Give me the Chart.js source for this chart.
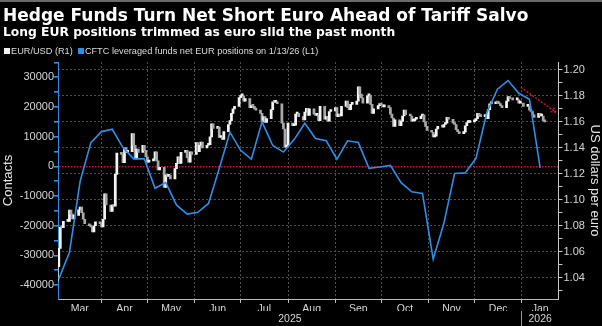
<!DOCTYPE html>
<html>
<head>
<meta charset="utf-8">
<script src="https://cdn.jsdelivr.net/npm/chart.js@4.4.1/dist/chart.umd.min.js"></script>
<style>
  body { margin: 0; background: #000; width: 602px; height: 326px; overflow: hidden; position: relative; }
  #topline { position: absolute; left: 0; top: 0; width: 602px; height: 2px; background: #6b6b6b; }
  #title { position: absolute; left: 3px; top: 6.6px; font: bold 17px/17px "DejaVu Sans", sans-serif; color: #fff; white-space: nowrap; }
  #subtitle { position: absolute; left: 3px; top: 25.9px; font: bold 12.3px/13px "DejaVu Sans", sans-serif; color: #fff; white-space: nowrap; }
  #legend { position: absolute; left: 4px; top: 45.7px; font: 9.2px/10px "Liberation Sans", sans-serif; color: #dcdcdc; white-space: nowrap; }
  #legend .box { display: inline-block; width: 6px; height: 6px; margin-right: 1px; vertical-align: 0; }
  #chart { position: absolute; left: 0; top: 0; }
</style>
</head>
<body>
<canvas id="chart" width="602" height="326"></canvas>
<div id="topline"></div>
<div id="title">Hedge Funds Turn Net Short Euro Ahead of Tariff Salvo</div>
<div id="subtitle">Long EUR positions trimmed as euro slid the past month</div>
<div id="legend"><span class="box" style="background:#f2f2f2"></span>EUR/USD (R1) &nbsp;<span class="box" style="background:#2f8fe8"></span>CFTC leveraged funds net EUR positions on 1/13/26 (L1)</div>
<script>
// EUR/USD daily closes, weekdays from Mar 3 2025 (Dec 25 / Jan 1 skipped)
const fxStart = '2025-03-03';
const fxHolidays = ['2025-12-25', '2026-01-01'];
const fxFirstOpen = 1.0375;
const fxCloses = [
  1.0485, 1.0625, 1.0790, 1.0785, 1.0833, // Mar 3
  1.0834, 1.0920, 1.0890, 1.0852, 1.0880,
  1.0922, 1.0943, 1.0900, 1.0850, 1.0815,
  1.0800, 1.0790, 1.0753, 1.0800, 1.0830,
  1.0815, 1.0790, 1.0850, 1.1045, 1.0960, // Mar 31
  1.0910, 1.0960, 1.0950, 1.1195, 1.1360,
  1.1350, 1.1285, 1.1400, 1.1365, 1.1370,
  1.1510, 1.1420, 1.1315, 1.1390, 1.1365,
  1.1420, 1.1380, 1.1330, 1.1290, 1.1300, // Apr 28
  1.1315, 1.1370, 1.1300, 1.1230, 1.1250,
  1.1095, 1.1190, 1.1180, 1.1190, 1.1160,
  1.1240, 1.1280, 1.1330, 1.1280, 1.1365,
  1.1380, 1.1325, 1.1290, 1.1370, 1.1350,
  1.1440, 1.1370, 1.1420, 1.1445, 1.1400, // Jun 2
  1.1420, 1.1425, 1.1485, 1.1585, 1.1550,
  1.1560, 1.1480, 1.1480, 1.1465, 1.1525,
  1.1580, 1.1610, 1.1665, 1.1700, 1.1720,
  1.1787, 1.1800, 1.1800, 1.1760, 1.1780, // Jun 30
  1.1710, 1.1725, 1.1720, 1.1700, 1.1690,
  1.1665, 1.1600, 1.1640, 1.1595, 1.1625,
  1.1695, 1.1755, 1.1750, 1.1750, 1.1740,
  1.1590, 1.1545, 1.1405, 1.1415, 1.1590, // Jul 28
  1.1570, 1.1575, 1.1660, 1.1665, 1.1640,
  1.1615, 1.1675, 1.1705, 1.1650, 1.1700,
  1.1660, 1.1650, 1.1650, 1.1610, 1.1720,
  1.1620, 1.1640, 1.1605, 1.1680, 1.1685,
  1.1710, 1.1640, 1.1660, 1.1645, 1.1720, // Sep 1
  1.1760, 1.1710, 1.1695, 1.1735, 1.1735,
  1.1760, 1.1870, 1.1815, 1.1785, 1.1745,
  1.1800, 1.1805, 1.1735, 1.1665, 1.1700,
  1.1725, 1.1735, 1.1730, 1.1715, 1.1715, // Sep 29
  1.1710, 1.1660, 1.1630, 1.1565, 1.1615,
  1.1570, 1.1605, 1.1645, 1.1690, 1.1655,
  1.1645, 1.1605, 1.1610, 1.1620, 1.1625,
  1.1645, 1.1655, 1.1600, 1.1565, 1.1535,
  1.1520, 1.1485, 1.1490, 1.1545, 1.1565, // Nov 3
  1.1560, 1.1580, 1.1590, 1.1635, 1.1620,
  1.1590, 1.1580, 1.1540, 1.1525, 1.1510,
  1.1520, 1.1570, 1.1595, 1.1595, 1.1600,
  1.1610, 1.1625, 1.1665, 1.1645, 1.1640, // Dec 1
  1.1640, 1.1625, 1.1695, 1.1740, 1.1740,
  1.1750, 1.1745, 1.1740, 1.1725, 1.1710,
  1.1760, 1.1795, 1.1780, 1.1770,
  1.1770, 1.1745, 1.1745, 1.1720,
  1.1720, 1.1690, 1.1680, 1.1655, 1.1635, // Jan 5
  1.1665, 1.1645, 1.1645, 1.1610, 1.1600
];

// CFTC leveraged funds net EUR positions (contracts), weekly from Tue Mar 4 2025
const cftcStart = '2025-03-04';
const cftcNet = [
  -38000, -29000, -5000, 8000, 11700, 12500, 6300, 2500, 2500, -7400,
  -5500, -13000, -16100, -15500, -12500, -700, 11500, 5400, 2400, 15000,
  7000, 4800, 9000, 14500, 9400, 8600, 2400, 8600, 8000, -700,
  -200, 300, -5500, -8600, -9100, -31300, -19200, -2400, -2200, 2700,
  17900, 26000, 28900, 24600, 22600, -500
];

const monthLabels = ['Mar', 'Apr', 'May', 'Jun', 'Jul', 'Aug', 'Sep', 'Oct', 'Nov', 'Dec', 'Jan'];
const yearLabels = ['2025', '2026'];

// trend arrow over the last month, in (day, price) units
const arrowFrom = { day: 305.4, price: 1.1866 };
const arrowTo = { day: 328.3, price: 1.1674 };

const DAY = 86400000;
const ORIGIN = Date.UTC(2025, 2, 1);
function dayOf(iso) {
  return (Date.parse(iso) - ORIGIN) / DAY;
}

// x axis is days since Mar 1 2025
const xMin = 2.5;
const xMax = 330;

let fxDays = [];
for (let t = Date.parse(fxStart); fxDays.length < fxCloses.length; t += DAY) {
  let d = new Date(t);
  let wd = d.getUTCDay();
  if (wd === 0 || wd === 6 || fxHolidays.includes(d.toISOString().slice(0, 10))) continue;
  fxDays.push((t - ORIGIN) / DAY);
}

let candles = fxCloses.map((c, i) => ({ x: fxDays[i], y: [i ? fxCloses[i - 1] : fxFirstOpen, c] }));
let cftcPoints = cftcNet.map((v, i) => ({ x: dayOf(cftcStart) + 7 * i, y: v }));

// month boundaries Apr 1 2025 .. Jan 1 2026, labels centred in each visible month
let monthEdges = [];
for (let m = 3; m <= 12; m++) monthEdges.push((Date.UTC(2025, m, 1) - ORIGIN) / DAY);
let bounds = [xMin, ...monthEdges, xMax];
let monthMids = monthLabels.map((_, i) => (bounds[i] + bounds[i + 1]) / 2);
let newYear = monthEdges[monthEdges.length - 1];
let yearMids = [(xMin + newYear) / 2, (newYear + xMax) / 2];

let leftTicks = [];
for (let v = -40000; v <= 35000; v += 5000) leftTicks.push(v);
let rightTicks = [];
for (let k = 103; k <= 120; k++) rightTicks.push(k / 100);

const tickFont = { family: 'Liberation Sans', size: 11 };
const tickColor = '#d6d6d6';
const gridColor = '#4e4e4e';
const blue = '#2f8fe8';

const arrowPlugin = {
  id: 'trendArrow',
  afterDatasetsDraw(chart) {
    let { ctx, scales } = chart;
    let x0 = scales.x.getPixelForValue(arrowFrom.day);
    let y0 = scales.y1.getPixelForValue(arrowFrom.price);
    let x1 = scales.x.getPixelForValue(arrowTo.day);
    let y1 = scales.y1.getPixelForValue(arrowTo.price);
    let a = Math.atan2(y1 - y0, x1 - x0);
    ctx.save();
    ctx.strokeStyle = '#d4162f';
    ctx.lineWidth = 1.4;
    ctx.setLineDash([2, 1.5]);
    ctx.beginPath();
    ctx.moveTo(x0, y0);
    ctx.lineTo(x1, y1);
    for (let s of [-1, 1]) {
      ctx.moveTo(x1, y1);
      ctx.lineTo(x1 - 7 * Math.cos(a + s * 0.5), y1 - 7 * Math.sin(a + s * 0.5));
    }
    ctx.stroke();
    ctx.restore();
  }
};

let ctx = document.getElementById('chart').getContext('2d');
let myChart = new Chart(ctx, {
  type: 'line',
  data: {
    datasets: [{
      type: 'line',
      label: 'CFTC leveraged funds net EUR positions on 1/13/26 (L1)',
      data: cftcPoints,
      xAxisID: 'x',
      yAxisID: 'y',
      borderColor: blue,
      borderWidth: 1.6,
      pointRadius: 0,
      tension: 0,
      order: 0
    }, {
      type: 'bar',
      label: 'EUR/USD (R1)',
      data: candles,
      xAxisID: 'x',
      yAxisID: 'y1',
      backgroundColor: c => (c.raw && c.raw.y[1] < c.raw.y[0] ? '#a8a8a8' : '#f4f4f4'),
      barThickness: 2.1,
      minBarLength: 2,
      grouped: false,
      order: 1
    }]
  },
  options: {
    responsive: false,
    animation: false,
    layout: { padding: { top: 62 } },
    plugins: {
      legend: { display: false },
      tooltip: { enabled: false }
    },
    scales: {
      x: {
        type: 'linear',
        position: 'bottom',
        weight: 0,
        min: xMin,
        max: xMax,
        offset: false,
        afterBuildTicks: s => {
          s.ticks = [...monthEdges, ...monthMids].sort((a, b) => a - b).map(v => ({ value: v }));
        },
        afterFit: s => { s.height = 12; },
        ticks: {
          autoSkip: false,
          maxRotation: 0,
          padding: 0,
          color: tickColor,
          font: { family: 'Liberation Sans', size: 10.5 },
          callback: v => {
            let i = monthMids.indexOf(v);
            return i < 0 ? '' : monthLabels[i];
          }
        },
        grid: {
          offset: false,
          color: c => (c.tick && monthEdges.includes(c.tick.value) ? gridColor : 'transparent'),
          tickColor: c => (c.tick && monthEdges.includes(c.tick.value) ? '#bcbcbc' : 'transparent'),
          tickLength: 4
        },
        border: { color: '#bcbcbc', dash: [2, 2] }
      },
      xYear: {
        type: 'linear',
        position: 'bottom',
        weight: 1,
        min: xMin,
        max: xMax,
        afterBuildTicks: s => {
          s.ticks = [yearMids[0], newYear, yearMids[1]].map(v => ({ value: v }));
        },
        afterFit: s => { s.height = 15; },
        ticks: {
          autoSkip: false,
          maxRotation: 0,
          padding: -13,
          color: tickColor,
          font: { family: 'Liberation Sans', size: 10.5 },
          callback: v => {
            let i = yearMids.indexOf(v);
            return i < 0 ? '' : yearLabels[i];
          }
        },
        grid: {
          drawOnChartArea: false,
          tickLength: 15,
          tickColor: c => (c.tick && c.tick.value === newYear ? '#9a9a9a' : 'transparent')
        },
        border: { display: false }
      },
      y: {
        type: 'linear',
        position: 'left',
        min: -44700,
        max: 35150,
        afterBuildTicks: s => { s.ticks = leftTicks.map(v => ({ value: v })); },
        afterFit: s => { s.width = 58; },
        ticks: {
          autoSkip: false,
          padding: 0,
          color: tickColor,
          font: tickFont,
          callback: v => (v % 10000 === 0 ? String(v) : '')
        },
        grid: {
          color: c => (c.tick && c.tick.value === 0 ? '#d0102c' : 'transparent'),
          lineWidth: 1.6,
          tickColor: blue,
          tickLength: 4
        },
        border: { color: blue, dash: [1.5, 1.5] },
        title: {
          display: true,
          text: 'Contacts',
          color: '#e6e6e6',
          font: { family: 'Liberation Sans', size: 13 },
          padding: { top: 1, bottom: 0 }
        }
      },
      y1: {
        type: 'linear',
        position: 'right',
        min: 1.02355,
        max: 1.20613,
        afterBuildTicks: s => { s.ticks = rightTicks.map(v => ({ value: v })); },
        afterFit: s => { s.width = 43.5; },
        ticks: {
          autoSkip: false,
          padding: 1,
          color: tickColor,
          font: tickFont,
          callback: v => (Math.round(v * 100) % 2 === 0 ? v.toFixed(2) : '')
        },
        grid: {
          color: c => (c.tick && Math.round(c.tick.value * 100) % 2 === 0 ? gridColor : 'transparent'),
          tickColor: '#c8c8c8',
          tickLength: 4
        },
        border: { color: '#c8c8c8', dash: [2, 2] },
        title: {
          display: true,
          text: 'US dollars per euro',
          color: '#e6e6e6',
          font: { family: 'Liberation Sans', size: 13 },
          padding: { top: 0, bottom: 0 }
        }
      }
    }
  },
  plugins: [arrowPlugin]
});
</script>
</body>
</html>
